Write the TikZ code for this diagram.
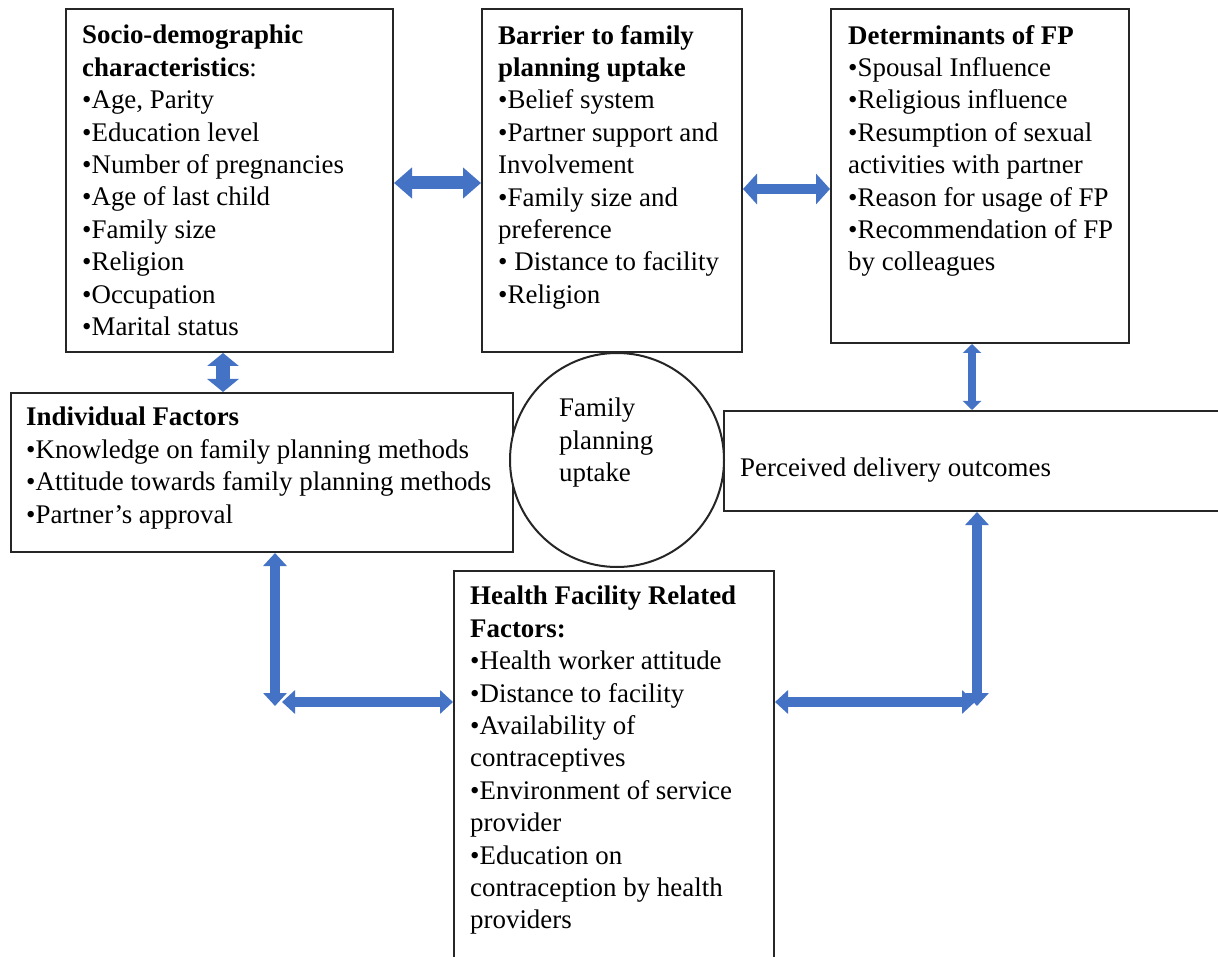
\documentclass[tikz,border=0pt]{standalone}
\usepackage{fontspec}
\setmainfont{Liberation Serif}
\usetikzlibrary{arrows.meta}
\definecolor{arrowblue}{HTML}{4472C4}
\begin{document}
\begin{tikzpicture}[x=1pt,y=-1pt,
  box/.style={draw=black!85, line width=2pt, fill=white, inner sep=0pt, anchor=north west},
  txt/.style={anchor=north west, inner sep=0pt, align=left, font=\fontsize{26.9}{32.4}\selectfont},
  dbl/.style n args={3}{draw=arrowblue, line width=#1, {Triangle[width=#2,length=#3]}-{Triangle[width=#2,length=#3]}}
]
\clip (0,0) rectangle (1218,957);
\fill[white] (0,0) rectangle (1218,957);

% boxes
\node[box, minimum width=327, minimum height=343] (socio) at (65,8) {};
\node[box, minimum width=260, minimum height=343] (barrier) at (481,8) {};
\node[box, minimum width=298, minimum height=334] (det) at (830,8) {};
\node[box, minimum width=502, minimum height=159] (indiv) at (10,392) {};
\node[box, minimum width=520, minimum height=100] (perc) at (723,410) {};
\node[box, minimum width=320, minimum height=420] (health) at (453,570) {};
\node[draw=black!85, line width=2pt, fill=white, circle, minimum size=214, inner sep=0pt] (fpu) at (617,460) {};

% texts
\node[txt] (sociot) at (82,25) {\textbf{Socio-demographic}\\\textbf{characteristics}:\\
\textbullet Age, Parity\\\textbullet Education level\\\textbullet Number of pregnancies\\
\textbullet Age of last child\\\textbullet Family size\\\textbullet Religion\\
\textbullet Occupation\\\textbullet Marital status};
\node[txt] (barriert) at (498,25) {\textbf{Barrier to family}\\\textbf{planning uptake}\\
\textbullet Belief system\\\textbullet Partner support and\\Involvement\\
\textbullet Family size and\\preference\\\textbullet\ Distance to facility\\\textbullet Religion};
\node[txt] (dett) at (848,25) {\textbf{Determinants of FP}\\\textbullet Spousal Influence\\
\textbullet Religious influence\\\textbullet Resumption of sexual\\activities with partner\\
\textbullet Reason for usage of FP\\\textbullet Recommendation of FP\\by colleagues};
\node[txt] (indivt) at (26,407) {\textbf{Individual Factors}\\
\textbullet Knowledge on family planning methods\\
\textbullet Attitude towards family planning methods\\
\textbullet Partner’s approval};
\node[txt] (fput) at (559,398) {Family\\planning\\uptake};
\node[txt] (perct) at (740,458) {Perceived delivery outcomes};
\node[txt] (healtht) at (470,586) {\textbf{Health Facility Related}\\\textbf{Factors:}\\
\textbullet Health worker attitude\\\textbullet Distance to facility\\
\textbullet Availability of\\contraceptives\\\textbullet Environment of service\\
provider\\\textbullet Education on\\contraception by health\\providers};

% corner coordinates
\coordinate (lc) at (275,706);
\coordinate (lh) at (282,702);
\coordinate (rc) at (977,706);
\coordinate (rh) at (975,702);

% arrows
\draw[dbl={13pt}{30pt}{18pt}] (socio.east |- 0,183) -- (barrier.west |- 0,183);
\draw[dbl={10pt}{30pt}{14pt}] (barrier.east |- 0,189) -- (det.west |- 0,189);
\draw[dbl={14pt}{31pt}{13pt}] (socio.south -| 223,0) -- (indiv.north -| 223,0);
\draw[dbl={8pt}{18pt}{9pt}] (det.south -| 972,0) -- (perc.north -| 972,0);
\draw[dbl={10pt}{23pt}{13pt}] (indiv.south -| 275,0) -- (lc);
\draw[dbl={10pt}{23pt}{13pt}] (lh) -- (health.west |- 0,702);
\draw[dbl={10pt}{23pt}{13pt}] (perc.south -| 977,0) -- (rc);
\draw[dbl={10pt}{23pt}{13pt}] (health.east |- 0,702) -- (rh);
\end{tikzpicture}
\end{document}
